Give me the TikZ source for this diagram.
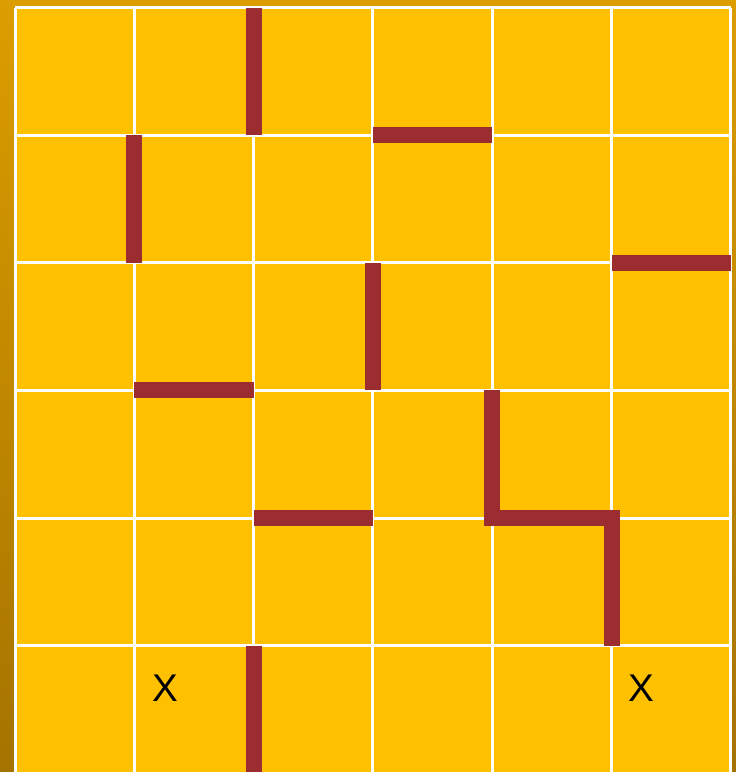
\documentclass[tikz,border=0pt]{standalone}
\usepackage{fontspec}
\setmainfont{Liberation Sans}
\usepackage{tikz}
\usepackage{xcolor}
\definecolor{MazeGold}{RGB}{255,192,0}
\definecolor{MazeWall}{RGB}{155,45,48}
\definecolor{BackTop}{RGB}{220,157,0}
\definecolor{BackBottom}{RGB}{165,115,0}

\begin{document}
\begin{tikzpicture}[
x=2.3866cm,y=-2.55cm,
gridline/.style={
draw=white,
line width=0.06cm
},
wall/.style={
draw=MazeWall,
line width=0.32cm,
line cap=butt,
line join=miter
},
xmark/.style={
font=\fontsize{22}{26}\selectfont,
text=black,
inner sep=0pt
}
]

% page and background
\useasboundingbox (-0.1257,-0.0627) rectangle (6.0421,5.9922);
\shade[top color=BackTop,bottom color=BackBottom]
  (-0.1257,-0.0627) rectangle (6.0421,5.9922);

% board
\fill[MazeGold] (0,0) rectangle (6,6);
\foreach \i in {0,...,6} {
  \draw[gridline] (\i,0) -- (\i,6);
  \draw[gridline] (0,\i) -- (6,\i);
}

% walls
\foreach \a/\b in {{2,0}/{2,1},{3,1}/{4,1},{1,1}/{1,2},{5,2}/{6,2},
  {3,2}/{3,3},{1,3}/{2,3},{2,4}/{3,4},{2,5}/{2,6}}
  \draw[wall] (\a) -- (\b);
\draw[wall] (4,3) -- (4,4) -- (5,4) -- (5,5);

% marks
\node[xmark] (start) at (1.257,5.333) {X};
\node[xmark] (goal) at (5.246,5.333) {X};

\end{tikzpicture}
\end{document}
